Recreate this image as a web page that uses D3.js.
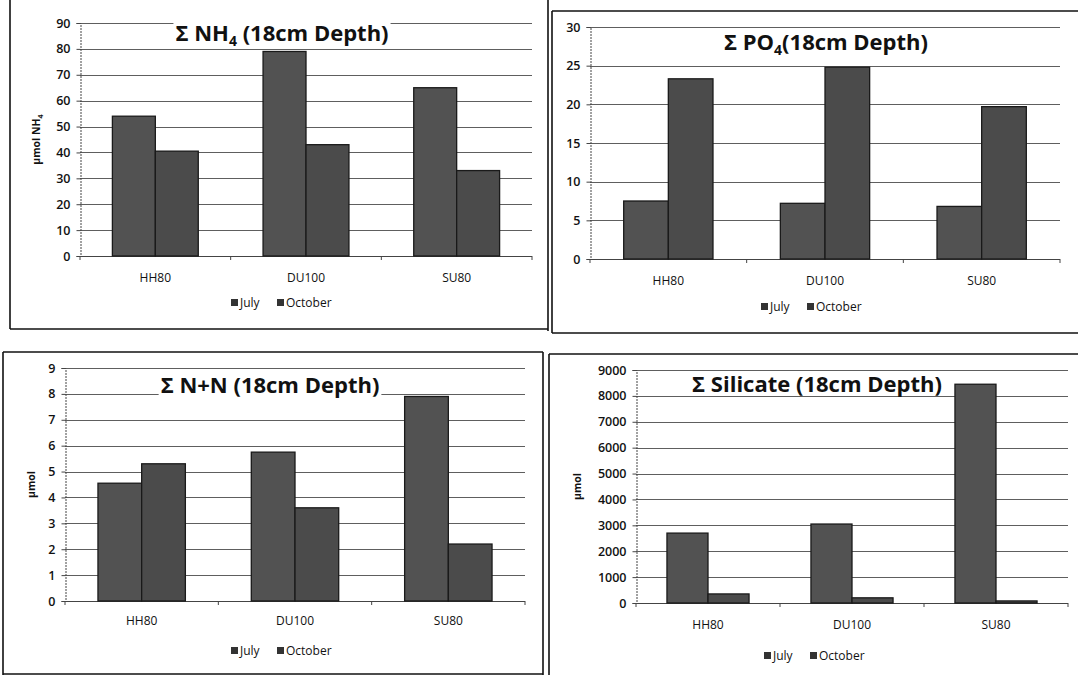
<!DOCTYPE html>
<html>
<head>
<meta charset="utf-8">
<script src="https://cdn.jsdelivr.net/npm/d3@7"></script>
<style>
  html, body { margin: 0; padding: 0; background: #fff; }
  svg { display: block; }
  text { font-family: "Open Sans", "Liberation Sans", sans-serif; fill: #111; }
</style>
</head>
<body>
<svg id="chart" width="1078" height="675"></svg>
<script>
// ---------------- DATA ----------------
const categories = ["HH80", "DU100", "SU80"];
const seriesNames = ["July", "October"];

const nh4July = [54, 79, 65];
const nh4October = [40.5, 43, 33];
const nh4Ticks = [0, 10, 20, 30, 40, 50, 60, 70, 80, 90];

const po4July = [7.5, 7.2, 6.8];
const po4October = [23.3, 24.8, 19.7];
const po4Ticks = [0, 5, 10, 15, 20, 25, 30];

const nnJuly = [4.55, 5.75, 7.9];
const nnOctober = [5.3, 3.6, 2.2];
const nnTicks = [0, 1, 2, 3, 4, 5, 6, 7, 8, 9];

const silJuly = [2700, 3050, 8450];
const silOctober = [350, 200, 80];
const silTicks = [0, 1000, 2000, 3000, 4000, 5000, 6000, 7000, 8000, 9000];

// ---------------- PANELS (layout) ----------------
const panels = [
  { title: ["Σ NH", "4", " (18cm Depth)"], yLabel: ["µmol NH", "4"],
    july: nh4July, october: nh4October, ticks: nh4Ticks,
    x0: 80, x1: 532, yTop: 23, yBot: 256, titleX: 282, titleY: 41,
    yLabX: 40, xLabY: 282, legY: 307, legX: 283 },
  { title: ["Σ PO", "4", "(18cm Depth)"], yLabel: null,
    july: po4July, october: po4October, ticks: po4Ticks,
    x0: 590, x1: 1060, yTop: 27, yBot: 259, titleX: 826, titleY: 50,
    yLabX: null, xLabY: 285, legY: 311, legX: 813 },
  { title: ["Σ N+N (18cm Depth)"], yLabel: ["µmol"],
    july: nnJuly, october: nnOctober, ticks: nnTicks,
    x0: 65, x1: 525, yTop: 368, yBot: 601, titleX: 270, titleY: 393,
    yLabX: 35, xLabY: 625, legY: 655, legX: 283 },
  { title: ["Σ Silicate (18cm Depth)"], yLabel: ["µmol"],
    july: silJuly, october: silOctober, ticks: silTicks,
    x0: 636, x1: 1068, yTop: 370, yBot: 603, titleX: 817, titleY: 392,
    yLabX: 581, xLabY: 629, legY: 660, legX: 816 }
];

const svg = d3.select("#chart");
const GRID = "#5e5e5e";

// ---------------- BORDERS ----------------
const borders = [
  [10, 0, 10, 329], [10, 329, 548, 329], [548, 0, 548, 331],
  [552, 11, 1078, 11], [552, 11, 552, 333], [552, 333, 1078, 333],
  [3, 352, 543, 352], [3, 352, 3, 675], [543, 352, 543, 675], [3, 674, 543, 674],
  [549, 354, 1078, 354], [549, 354, 549, 675]
];
svg.append("g").selectAll("line").data(borders).join("line")
  .attr("x1", d => d[0]).attr("y1", d => d[1])
  .attr("x2", d => d[2]).attr("y2", d => d[3])
  .attr("stroke", "#111").attr("stroke-width", 1.6);

function drawPanel(p) {
  const g = svg.append("g");
  const maxV = d3.max(p.ticks);
  const y = d3.scaleLinear().domain([0, maxV]).range([p.yBot, p.yTop]);
  const x = d3.scaleBand().domain(categories).range([p.x0, p.x1])
    .paddingInner(0.43).paddingOuter(0.215);
  const xs = d3.scaleBand().domain(seriesNames).range([0, x.bandwidth()]).padding(0);
  const step = x.step();

  // gridlines
  g.append("g").selectAll("line").data(p.ticks.filter(t => t > 0)).join("line")
    .attr("x1", p.x0).attr("x2", p.x1)
    .attr("y1", d => Math.round(y(d)) + 0.5).attr("y2", d => Math.round(y(d)) + 0.5)
    .attr("stroke", GRID).attr("stroke-width", 1);

  // y axis
  const yAxis = d3.axisLeft(y).tickValues(p.ticks).tickSize(4).tickPadding(6)
    .tickFormat(d3.format("d"));
  const ya = g.append("g").attr("transform", `translate(${p.x0 + 0.5},0)`).call(yAxis);
  ya.select(".domain").attr("stroke", "#444").attr("stroke-dasharray", "2,1");
  ya.selectAll(".tick line").attr("stroke", "#444");
  ya.selectAll(".tick text").attr("font-size", 12.5).attr("font-weight", 600)
    .attr("fill", "#111").attr("font-family", "Open Sans, sans-serif");

  // x axis (baseline + boundary ticks)
  g.append("line").attr("x1", p.x0).attr("x2", p.x1)
    .attr("y1", p.yBot + 0.5).attr("y2", p.yBot + 0.5)
    .attr("stroke", "#444").attr("stroke-width", 1);
  g.append("g").selectAll("line").data(d3.range(0, categories.length + 1)).join("line")
    .attr("x1", i => p.x0 + i * step).attr("x2", i => p.x0 + i * step)
    .attr("y1", p.yBot).attr("y2", p.yBot + 4)
    .attr("stroke", "#444");
  g.append("g").selectAll("text").data(categories).join("text")
    .attr("x", d => x(d) + x.bandwidth() / 2).attr("y", p.xLabY)
    .attr("text-anchor", "middle").attr("font-size", 12)
    .text(d => d);

  // bars
  const rows = [];
  categories.forEach((c, i) => {
    rows.push({ c, s: "July", v: p.july[i] });
    rows.push({ c, s: "October", v: p.october[i] });
  });
  g.append("g").selectAll("rect").data(rows).join("rect")
    .attr("x", d => x(d.c) + xs(d.s))
    .attr("y", d => y(d.v))
    .attr("width", xs.bandwidth())
    .attr("height", d => y(0) - y(d.v))
    .attr("fill", d => d.s === "July" ? "#525252" : "#4b4b4b")
    .attr("stroke", "#1a1a1a").attr("stroke-width", 1.3);

  // title with white background
  const tg = g.append("g");
  const bg = tg.append("rect").attr("fill", "#fff");
  const t = tg.append("text").attr("x", p.titleX).attr("y", p.titleY)
    .attr("text-anchor", "middle").attr("font-size", 22).attr("font-weight", 700);
  p.title.forEach((part, i) => {
    const ts = t.append("tspan").text(part);
    if (p.title.length > 1 && i === 1) ts.attr("font-size", 14).attr("dy", 5);
    if (p.title.length > 1 && i === 2) ts.attr("dy", -5);
  });
  const bb = t.node().getBBox();
  bg.attr("x", bb.x - 2).attr("y", bb.y + 3).attr("width", bb.width + 4).attr("height", bb.height - 6);

  // y label
  if (p.yLabel) {
    const cy = (p.yTop + p.yBot) / 2;
    const yl = g.append("text")
      .attr("transform", `translate(${p.yLabX},${cy}) rotate(-90)`)
      .attr("text-anchor", "middle").attr("font-size", 10.5).attr("font-weight", 700);
    p.yLabel.forEach((part, i) => {
      const ts = yl.append("tspan").text(part);
      if (i === 1) ts.attr("font-size", 7).attr("dy", 3);
    });
  }

  // legend
  const lg = g.append("g").attr("transform", `translate(${p.legX},${p.legY})`);
  const items = [{ n: "July", dx: -52 }, { n: "October", dx: -6 }];
  items.forEach(it => {
    lg.append("rect").attr("x", it.dx).attr("y", -8).attr("width", 7).attr("height", 7)
      .attr("fill", "#333");
    lg.append("text").attr("x", it.dx + 9).attr("y", 0).attr("font-size", 12)
      .text(it.n);
  });
}

panels.forEach(drawPanel);
</script>
</body>
</html>
